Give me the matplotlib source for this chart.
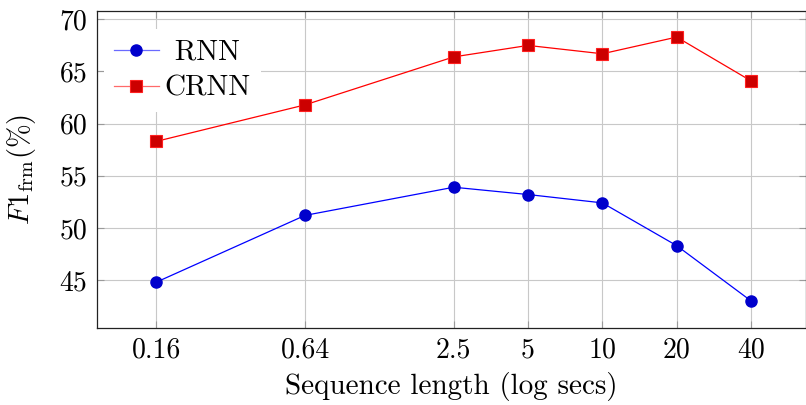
import matplotlib
matplotlib.use('Agg')
import matplotlib.pyplot as plt

# sequence lengths (secs), doubling steps; labels as printed on the axis
seq_len = [0.16, 0.64, 2.56, 5.12, 10.24, 20.48, 40.96]
seq_labels = ['0.16', '0.64', '2.5', '5', '10', '20', '40']

f1_rnn = [44.8, 51.2, 53.9, 53.2, 52.4, 48.3, 43.0]
f1_crnn = [58.3, 61.8, 66.4, 67.5, 66.7, 68.3, 64.1]

y_ticks = [45, 50, 55, 60, 65, 70]

plt.rcParams['font.family'] = 'serif'
plt.rcParams['font.serif'] = ['cmr10', 'DejaVu Serif']
plt.rcParams['mathtext.fontset'] = 'cm'
plt.rcParams['axes.unicode_minus'] = False

fig = plt.figure(figsize=(8.06, 4.05), dpi=100)
ax = fig.add_axes([0.1203, 0.1909, 0.8793, 0.7819])

ax.plot(seq_len, f1_rnn, color='#0000ff', lw=0.9, marker='o', ms=8,
        mfc='#0000cc', mec='#0000cc', label=' RNN', zorder=3)
ax.plot(seq_len, f1_crnn, color='#ff0000', lw=0.9, marker='s', ms=8,
        mfc='#cc0000', mec='#ff2020', mew=0.8, label='CRNN', zorder=3)

ax.set_xscale('log', base=2)
ax.set_xlim(0.0919, 68.2)
ax.set_ylim(40.43, 70.8)
ax.set_xticks(seq_len)
ax.set_xticklabels(seq_labels)
ax.minorticks_off()
ax.set_yticks(y_ticks)

ax.grid(True, color='#c8c8c8', lw=0.8)
ax.set_axisbelow(True)
ax.tick_params(direction='in', length=5, width=0.8, color='#9a9a9a',
               top=True, right=True, labelsize=20, pad=7)
for s in ax.spines.values():
    s.set_linewidth(0.9)
    s.set_color('#222222')

ax.set_xlabel('Sequence length (log secs)', fontsize=21, labelpad=6)
ax.set_ylabel(r'$F1_{\mathrm{frm}}(\%)$', fontsize=20.5)
ax.yaxis.set_label_coords(-0.083, 0.5)

leg = ax.legend(loc='upper left', bbox_to_anchor=(0.0095, 0.942),
                fontsize=21, frameon=True, framealpha=1,
                edgecolor='none', fancybox=False, handlelength=1.55,
                handletextpad=0.2, borderaxespad=0.0, labelspacing=0.33,
                borderpad=0.34)
for h, c in zip(leg.legend_handles, ['#6a6aff', '#ff6a6a']):
    h.set_color(c)

fig.savefig('out.png', dpi=100)
